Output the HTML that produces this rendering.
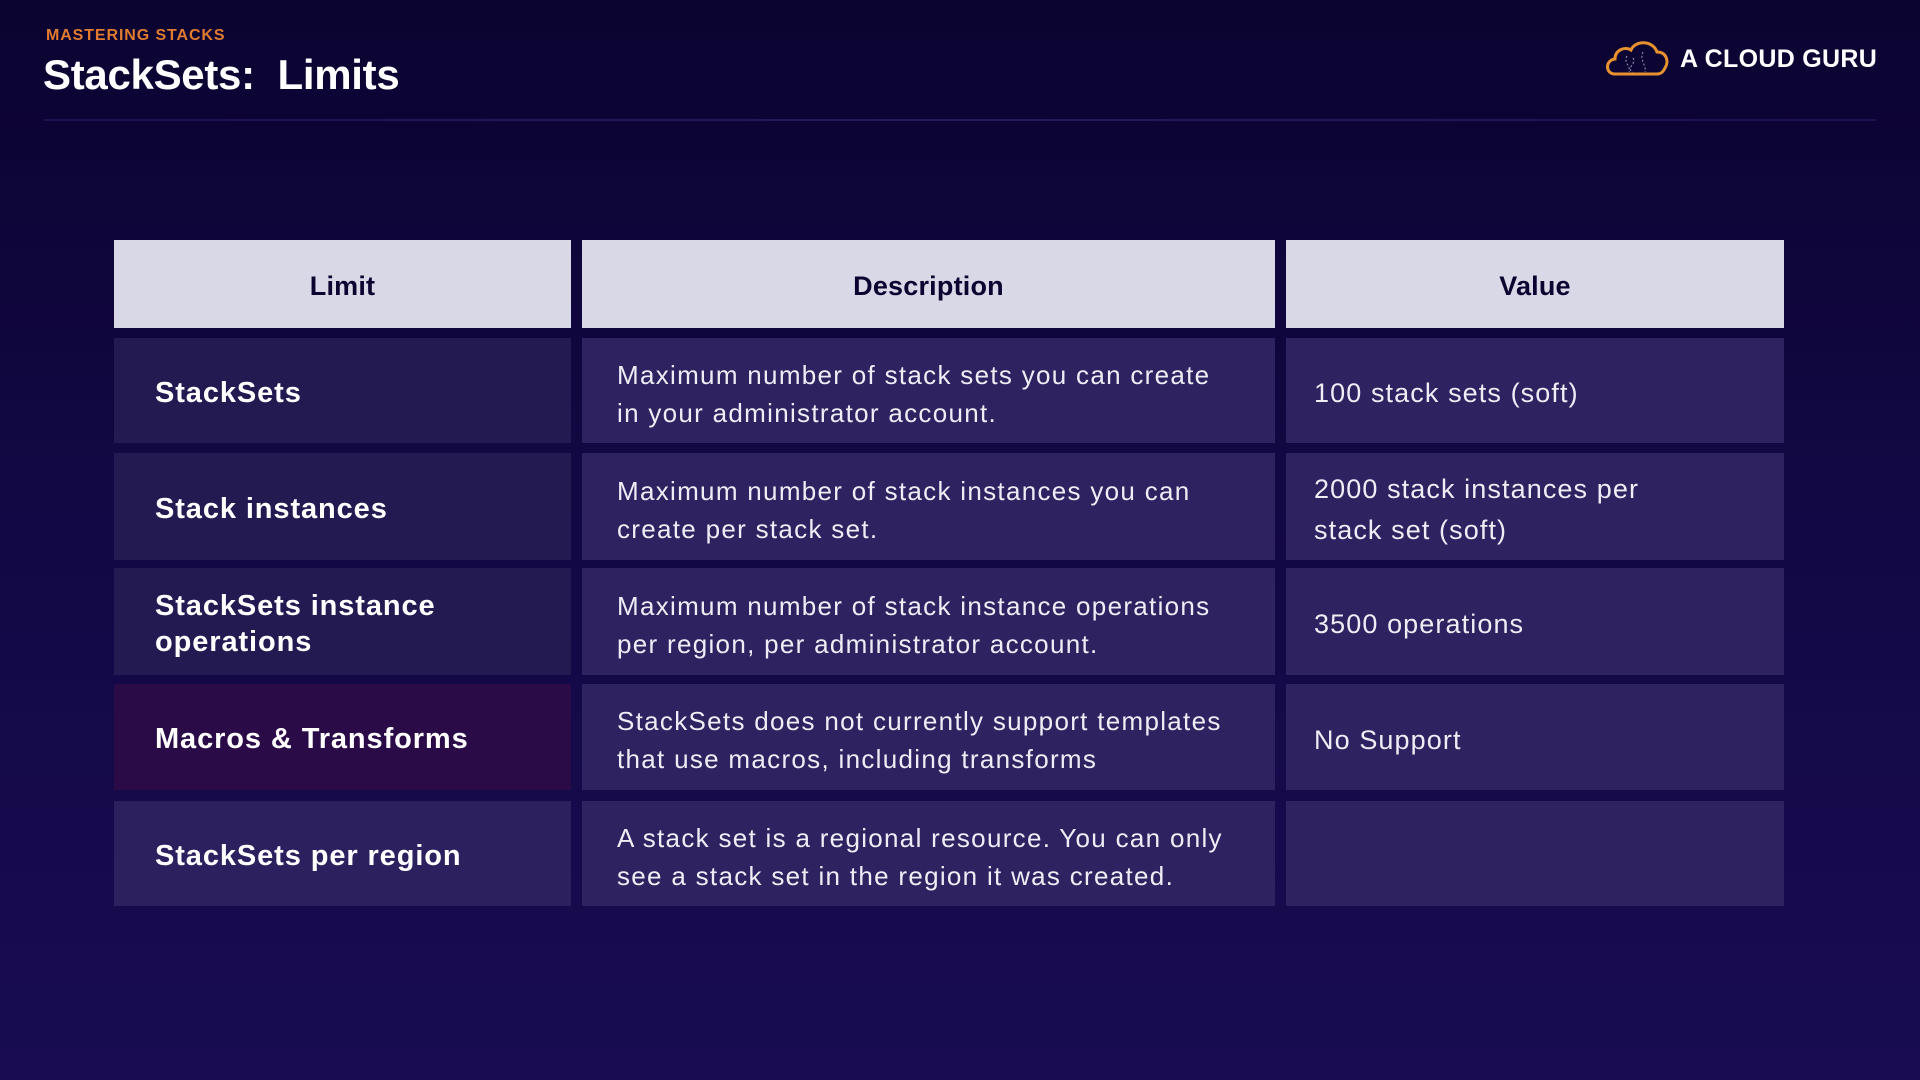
<!DOCTYPE html>
<html><head><meta charset="utf-8"><style>
*{margin:0;padding:0;box-sizing:border-box}
body{width:1920px;height:1080px;overflow:hidden;background:linear-gradient(180deg,#0b0330 0%,#120844 45%,#190c52 100%);font-family:"Liberation Sans",sans-serif;position:relative;color:#fff}
.sub{position:absolute;left:46px;top:27px;font-size:16px;font-weight:bold;color:#e07b30;letter-spacing:0.9px}
.title{position:absolute;left:43px;top:51px;font-size:42px;font-weight:bold;letter-spacing:-0.3px}
.line{position:absolute;left:44px;top:119px;width:1832px;height:2px;background:linear-gradient(90deg,#1c1450,#231a5a 50%,#1c1450)}
.logo{position:absolute;left:1680px;top:45px;font-size:25px;font-weight:bold;letter-spacing:0.3px}
.c{position:absolute;display:flex;align-items:center}
.h{background:#d9d8e6;color:#0c0330;font-weight:bold;font-size:27px;justify-content:center;padding-top:4px;letter-spacing:0.2px}
.l{background:#241a52;font-weight:bold;font-size:29px;padding-left:41px;line-height:36px;letter-spacing:0.9px;padding-top:4px}
.d{background:#2e2260;font-size:26px;padding-left:35px;line-height:38px;color:#eeedf5;letter-spacing:1.3px;padding-top:6px}
.v{background:#2e2260;font-size:27px;padding-left:28px;line-height:41px;color:#eeedf5;letter-spacing:1.1px;padding-top:6px}
</style></head><body>
<div class="sub">MASTERING STACKS</div>
<div class="title">StackSets:&nbsp; Limits</div>
<div class="line"></div>
<svg style="position:absolute;left:1603px;top:38px" width="68" height="40" viewBox="0 0 68 40">
<path d="M12 36 C2 36 2 22 12 21 C12 12 22 8 28 12 C32 2 50 2 54 14 C64 14 66 24 62 30 C60 34 58 36 54 36 Z" fill="none" stroke="#e8922f" stroke-width="3"/>
<path d="M24 18 C20 24 28 28 26 34 M40 14 C36 22 44 28 42 34 M30 20 C34 26 22 30 30 34" fill="none" stroke="#8a7fa8" stroke-width="1.2" stroke-dasharray="2 2"/>
</svg>
<div class="logo">A CLOUD GURU</div>

<div class="c h" style="left:114px;top:240px;width:457px;height:88px">Limit</div>
<div class="c h" style="left:582px;top:240px;width:693px;height:88px">Description</div>
<div class="c h" style="left:1286px;top:240px;width:498px;height:88px">Value</div>

<div class="c l" style="left:114px;top:338px;width:457px;height:105px">StackSets</div>
<div class="c d" style="left:582px;top:338px;width:693px;height:105px">Maximum number of stack sets you can create<br>in your administrator account.</div>
<div class="c v" style="left:1286px;top:338px;width:498px;height:105px">100 stack sets (soft)</div>

<div class="c l" style="left:114px;top:453px;width:457px;height:107px">Stack instances</div>
<div class="c d" style="left:582px;top:453px;width:693px;height:107px">Maximum number of stack instances you can<br>create per stack set.</div>
<div class="c v" style="left:1286px;top:453px;width:498px;height:107px">2000 stack instances per<br>stack set (soft)</div>

<div class="c l" style="left:114px;top:568px;width:457px;height:107px">StackSets instance<br>operations</div>
<div class="c d" style="left:582px;top:568px;width:693px;height:107px">Maximum number of stack instance operations<br>per region, per administrator account.</div>
<div class="c v" style="left:1286px;top:568px;width:498px;height:107px">3500 operations</div>

<div class="c l" style="left:114px;top:684px;width:457px;height:106px;background:#2a0b48">Macros &amp; Transforms</div>
<div class="c d" style="left:582px;top:684px;width:693px;height:106px">StackSets does not currently support templates<br>that use macros, including transforms</div>
<div class="c v" style="left:1286px;top:684px;width:498px;height:106px">No Support</div>

<div class="c l" style="left:114px;top:801px;width:457px;height:105px;background:#2d205f">StackSets per region</div>
<div class="c d" style="left:582px;top:801px;width:693px;height:105px">A stack set is a regional resource. You can only<br>see a stack set in the region it was created.</div>
<div class="c v" style="left:1286px;top:801px;width:498px;height:105px"></div>
</body></html>
